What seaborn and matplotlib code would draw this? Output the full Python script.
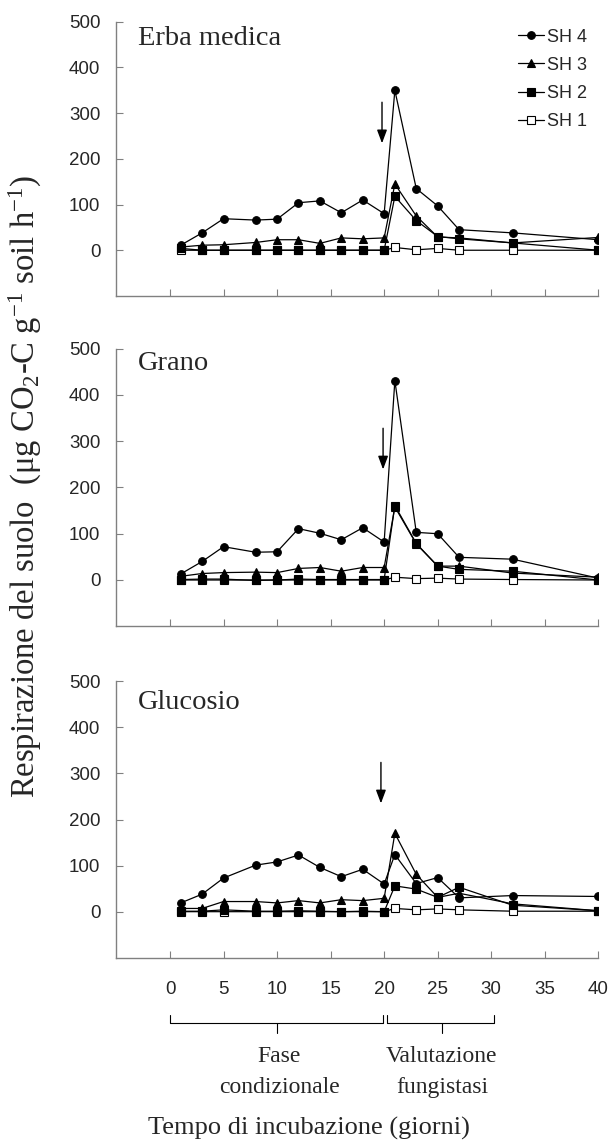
import numpy as np
import pandas as pd
import matplotlib
matplotlib.use('Agg')
import matplotlib.pyplot as plt
import seaborn as sns

# giorni di incubazione
giorni = [1, 3, 5, 8, 10, 12, 14, 16, 18, 20, 21, 23, 25, 27, 32, 40]

# Erba medica
erba_sh4 = [11, 38, 69, 66, 68, 104, 108, 82, 110, 80, 350, 135, 97, 45, 38, 23]
erba_sh3 = [7, 11, 12, 17, 23, 23, 15, 27, 25, 27, 145, 75, 29, 27, 16, 28]
erba_sh2 = [4, 0, 0, 0, 0, 0, 0, 0, 0, 0, 118, 65, 30, 25, 16, 0]
erba_sh1 = [0, 0, 0, 0, 0, 0, 0, 0, 0, 0, 6, 1, 4, 0, 0, 0]

# Grano
grano_sh4 = [13, 40, 72, 60, 61, 111, 101, 87, 113, 82, 431, 103, 100, 49, 45, 4]
grano_sh3 = [8, 14, 16, 17, 16, 25, 27, 19, 27, 27, 158, 78, 30, 30, 15, 6]
grano_sh2 = [1, 2, 2, -1, 0, 2, 1, 1, 1, 1, 161, 79, 30, 23, 19, 0]
grano_sh1 = [0, 0, 0, 0, 0, 0, 0, 0, 0, 0, 6, 3, 4, 2, 1, 0]

# Glucosio
gluc_sh4 = [19, 38, 73, 101, 108, 123, 96, 76, 92, 60, 124, 61, 74, 30, 35, 33]
gluc_sh3 = [7, 7, 22, 22, 19, 24, 19, 26, 24, 29, 170, 81, 31, 40, 17, 2]
gluc_sh2 = [1, 1, 4, 1, 1, 2, 1, 0, 1, 0, 56, 49, 31, 53, 14, 2]
gluc_sh1 = [0, 0, 0, 0, 0, 0, 0, 0, 0, 0, 7, 4, 6, 4, 1, 1]

pannelli = ['Erba medica', 'Grano', 'Glucosio']
serie = ['SH 4', 'SH 3', 'SH 2', 'SH 1']
valori = {
    'Erba medica': [erba_sh4, erba_sh3, erba_sh2, erba_sh1],
    'Grano': [grano_sh4, grano_sh3, grano_sh2, grano_sh1],
    'Glucosio': [gluc_sh4, gluc_sh3, gluc_sh2, gluc_sh1],
}

rows = []
for p in pannelli:
    for s, v in zip(serie, valori[p]):
        for g, r in zip(giorni, v):
            rows.append({'pannello': p, 'serie': s, 'giorno': g, 'resp': r})
df = pd.DataFrame(rows)

sns.set_style('white')
plt.rcParams['font.family'] = ['Liberation Sans', 'DejaVu Sans']
plt.rcParams['mathtext.fontset'] = 'custom'
plt.rcParams['mathtext.rm'] = 'Liberation Serif'
plt.rcParams['mathtext.it'] = 'Liberation Serif:italic'

stile = {
    'SH 4': dict(marker='o', mfc='black'),
    'SH 3': dict(marker='^', mfc='black'),
    'SH 2': dict(marker='s', mfc='black'),
    'SH 1': dict(marker='s', mfc='white'),
}
ordine = ['SH 1', 'SH 4', 'SH 3', 'SH 2']

fig = plt.figure(figsize=(6.13, 11.47), dpi=100)
pos = [[0.190, 0.742, 0.786, 0.239],
       [0.190, 0.454, 0.786, 0.242],
       [0.190, 0.165, 0.786, 0.241]]
titolo_y = [0.94, 0.946, 0.924]
freccia = [(19.8, 330, 228), (19.9, 334, 233), (19.7, 330, 229)]
grigio = '#808080'

axes = []
for i, p in enumerate(pannelli):
    ax = fig.add_axes(pos[i])
    sub = df[df.pannello == p]
    for s in ordine:
        d = sub[sub.serie == s]
        sns.lineplot(data=d, x='giorno', y='resp', ax=ax, color='black',
                     linewidth=0.9, marker=stile[s]['marker'],
                     markerfacecolor=stile[s]['mfc'], markeredgecolor='black',
                     markersize=5.5 if s != 'SH 3' else 6, markeredgewidth=0.8,
                     label=s, legend=False)
    ax.set_xlim(-5, 40)
    ax.set_ylim(-100, 500)
    ax.set_xticks(range(0, 41, 5))
    ax.set_yticks(range(0, 501, 100))
    ax.set_xlabel('')
    ax.set_ylabel('')
    for sp in ['top', 'right']:
        ax.spines[sp].set_visible(False)
    for sp in ['left', 'bottom']:
        ax.spines[sp].set_color(grigio)
        ax.spines[sp].set_linewidth(1.0)
    ax.tick_params(axis='both', direction='in', length=5, color=grigio,
                   labelsize=13.5, left=True, bottom=True)
    ax.tick_params(axis='y', pad=11.5)
    if i < 2:
        ax.tick_params(axis='x', labelbottom=False)
    else:
        ax.tick_params(axis='x', pad=17)
    ax.text(0.044, titolo_y[i], p, transform=ax.transAxes, family='Liberation Serif',
            fontsize=20.5, va='center', ha='left')
    fx, y0, y1 = freccia[i]
    ax.annotate('', xy=(fx, y1), xytext=(fx, y0),
                arrowprops=dict(arrowstyle='-|>,head_width=0.3,head_length=0.8',
                                color='black', lw=1.0))
    axes.append(ax)

# legenda
handles, labels = axes[0].get_legend_handles_labels()
mappa = dict(zip(labels, handles))
axes[0].legend([mappa[s] for s in serie], serie, loc='upper right',
               bbox_to_anchor=(1.0, 1.015), frameon=False, fontsize=13,
               handlelength=1.45, handletextpad=0.2, labelspacing=0.62,
               borderaxespad=0.2)

# parentesi sotto l'asse x
ax3 = axes[2]
trans = ax3.get_xaxis_transform()
def parentesi(ax, x0, x1, xm, ytop, ybar, ytip):
    ax.plot([x0, x0, x1, x1], [ytop, ybar, ybar, ytop], color='black', lw=0.8,
            transform=trans, clip_on=False)
    ax.plot([xm, xm], [ybar, ytip], color='black', lw=0.8, transform=trans,
            clip_on=False)

parentesi(ax3, 0, 19.9, 10.0, -0.2065, -0.2355, -0.272)
parentesi(ax3, 20.3, 30.3, 25.4, -0.2065, -0.2355, -0.272)
testo_fasi = [(10.2, 'Fase', 'condizionale'), (25.4, 'Valutazione', 'fungistasi')]
for xc, riga1, riga2 in testo_fasi:
    ax3.text(xc, -0.359, riga1, transform=trans, ha='center', va='center',
             family='Liberation Serif', fontsize=17)
    ax3.text(xc, -0.471, riga2, transform=trans, ha='center', va='center',
             family='Liberation Serif', fontsize=17)

fig.text(0.504, 0.0166, 'Tempo di incubazione (giorni)', ha='center', va='center',
         family='Liberation Serif', fontsize=19)
fig.text(0.042, 0.576,
         r'Respirazione del suolo  ($\mathregular{\mu}$g CO$_2$-C g$^{-1}$ soil h$^{-1}$)',
         rotation=90, ha='center', va='center', family='Liberation Serif',
         fontsize=23.5)

fig.savefig('out.png', dpi=100)
